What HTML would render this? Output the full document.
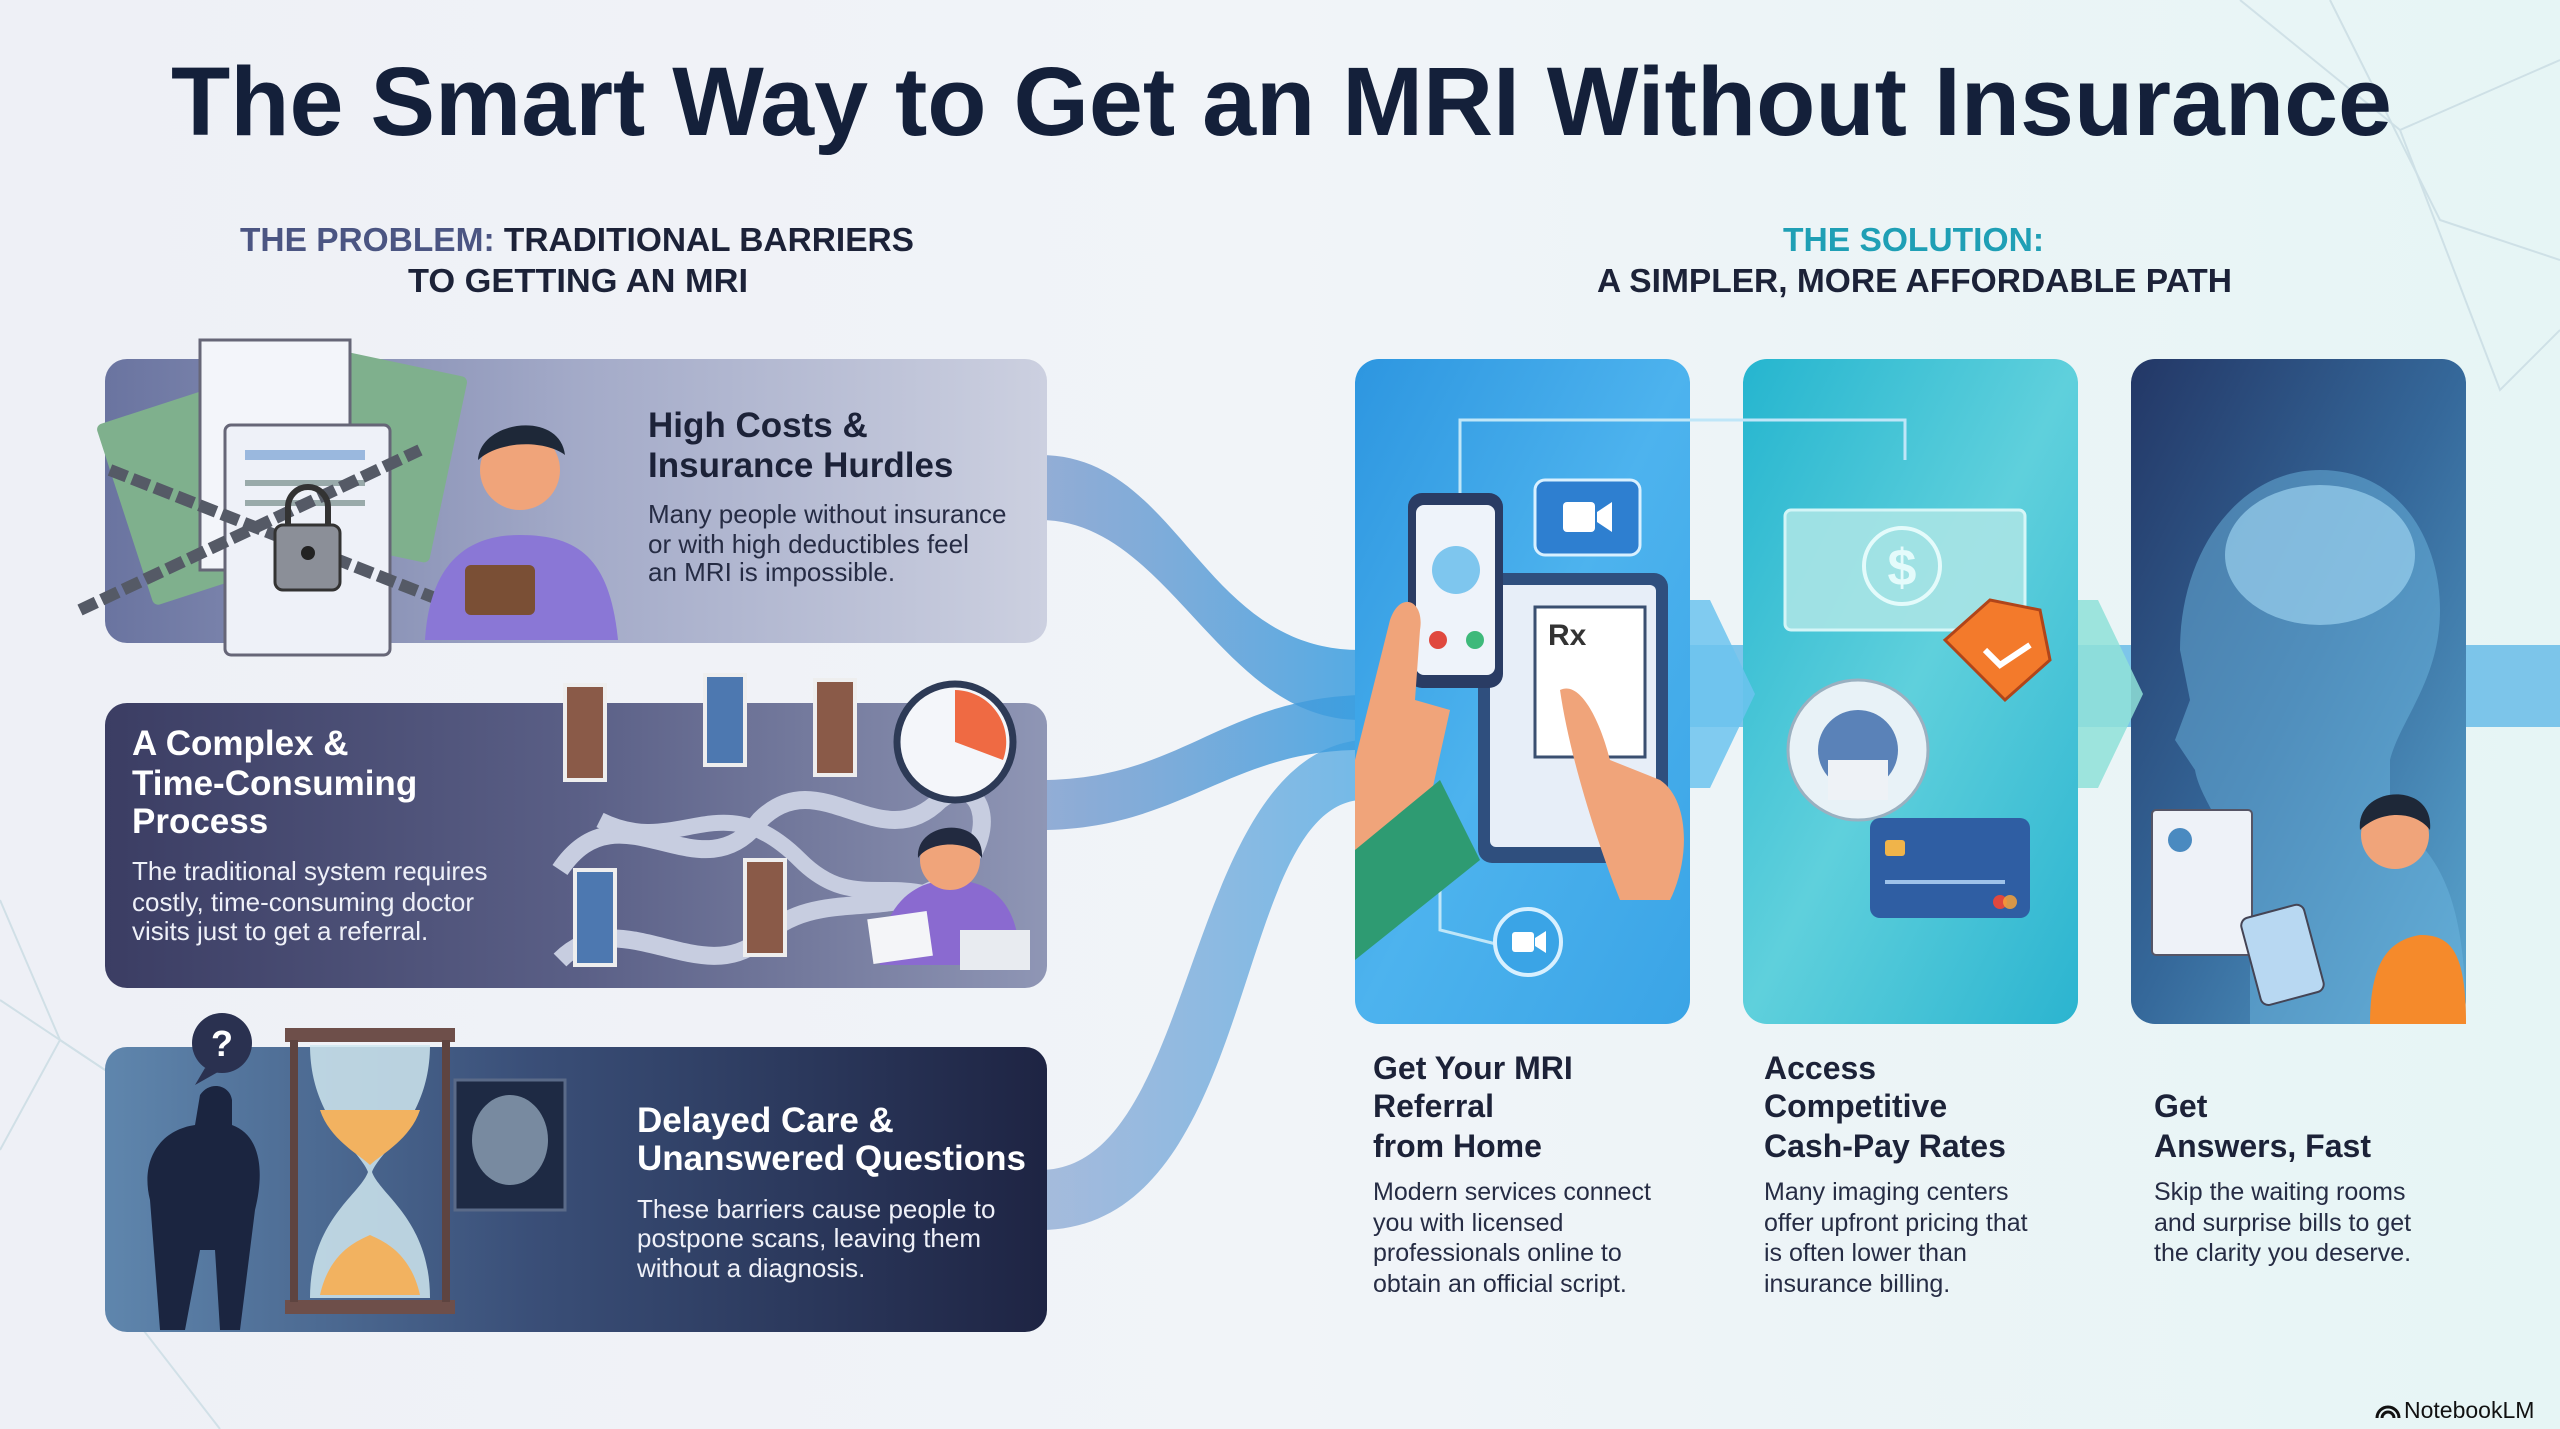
<!DOCTYPE html>
<html><head><meta charset="utf-8"><style>
html,body{margin:0;padding:0;width:2560px;height:1429px;overflow:hidden;background:#f1f4f8}
svg{display:block}
text{font-family:"Liberation Sans",sans-serif}
</style></head><body>
<svg width="2560" height="1429" viewBox="0 0 2560 1429" xmlns="http://www.w3.org/2000/svg">
<defs>
<linearGradient id="bg" x1="0" y1="0" x2="1" y2="0"><stop offset="0" stop-color="#eef0f6"/><stop offset=".5" stop-color="#f1f4f8"/><stop offset="1" stop-color="#e6f5f5"/></linearGradient>
<linearGradient id="c1" x1="0" y1="0" x2="1" y2="0"><stop offset="0" stop-color="#6a74a0"/><stop offset=".5" stop-color="#a3aac8"/><stop offset="1" stop-color="#ccd0e0"/></linearGradient>
<linearGradient id="c2" x1="0" y1="0" x2="1" y2="0"><stop offset="0" stop-color="#3b3d63"/><stop offset=".5" stop-color="#5a5f86"/><stop offset="1" stop-color="#8f96b5"/></linearGradient>
<linearGradient id="c3" x1="0" y1="0" x2="1" y2="0"><stop offset="0" stop-color="#5f86ad"/><stop offset=".45" stop-color="#3a4f78"/><stop offset="1" stop-color="#1e2443"/></linearGradient>
<linearGradient id="ca" x1="0" y1="0" x2="1" y2="1"><stop offset="0" stop-color="#2d96e0"/><stop offset=".5" stop-color="#4db3ee"/><stop offset="1" stop-color="#3aa4e6"/></linearGradient>
<linearGradient id="cb" x1="0" y1="0" x2="1" y2="1"><stop offset="0" stop-color="#25b5cf"/><stop offset=".5" stop-color="#5fd0dc"/><stop offset="1" stop-color="#2bb4d0"/></linearGradient>
<linearGradient id="cc" x1="0" y1="0" x2="1" y2="1"><stop offset="0" stop-color="#233766"/><stop offset=".5" stop-color="#35689a"/><stop offset="1" stop-color="#5aa6cf"/></linearGradient>
<linearGradient id="rib" x1="0" y1="0" x2="1" y2="0"><stop offset="0" stop-color="#6b8fc6" stop-opacity=".7"/><stop offset="1" stop-color="#3a9ee0" stop-opacity=".85"/></linearGradient>
</defs>
<rect width="2560" height="1429" fill="url(#bg)"/>
<!-- faint network lines -->
<g stroke="#c9dce3" stroke-width="2" fill="none" opacity=".8">
<path d="M2240 0 L2400 130 L2500 390 L2560 330"/><path d="M2400 130 L2560 60"/><path d="M2330 0 L2440 220 L2560 260"/>
<path d="M0 900 L60 1040 L0 1150"/><path d="M60 1040 L180 1120 L120 1300 L220 1429"/><path d="M0 1000 L180 1120"/>
</g>
<!-- title -->
<text x="171" y="135" font-size="97" font-weight="700" fill="#14203a" textLength="2221" lengthAdjust="spacingAndGlyphs">The Smart Way to Get an MRI Without Insurance</text>
<text x="240" y="251" font-size="33" font-weight="700" textLength="674" lengthAdjust="spacingAndGlyphs"><tspan fill="#4b5582">THE PROBLEM:</tspan><tspan fill="#1c2238"> TRADITIONAL BARRIERS</tspan></text>
<text x="408" y="292" font-size="33" font-weight="700" fill="#1c2238" textLength="340" lengthAdjust="spacingAndGlyphs">TO GETTING AN MRI</text>
<text x="1783" y="251" font-size="33" font-weight="700" fill="#1f9fb5" textLength="261" lengthAdjust="spacingAndGlyphs">THE SOLUTION:</text>
<text x="1597" y="292" font-size="33" font-weight="700" fill="#1c2238" textLength="635" lengthAdjust="spacingAndGlyphs">A SIMPLER, MORE AFFORDABLE PATH</text>

<!-- ribbons -->
<g fill="url(#rib)">
<path d="M1040 455 C1180 455 1200 650 1360 650 L1360 720 C1220 720 1170 520 1040 520 Z"/>
<path d="M1040 780 C1180 780 1220 700 1360 695 L1360 750 C1230 750 1180 830 1040 830 Z"/>
<path d="M1040 1170 C1200 1170 1180 760 1360 740 L1360 800 C1230 810 1260 1230 1040 1230 Z" opacity=".8"/>
<path d="M1690 645 L2560 645 L2560 727 L1690 727 Z" fill="#4fb0e6" opacity=".7"/>
</g>

<!-- left cards -->
<rect x="105" y="359" width="942" height="284" rx="22" fill="url(#c1)"/>
<rect x="105" y="703" width="942" height="285" rx="22" fill="url(#c2)"/>
<rect x="105" y="1047" width="942" height="285" rx="22" fill="url(#c3)"/>

<!-- card1 illustration -->
<g>
<rect x="120" y="390" width="200" height="190" rx="6" fill="#7fb08d" transform="rotate(-18 220 485)"/>
<rect x="300" y="360" width="150" height="190" rx="6" fill="#7fb08d" transform="rotate(12 375 455)"/>
<rect x="200" y="340" width="150" height="230" fill="#f3f5fa" stroke="#667" stroke-width="3"/>
<rect x="225" y="425" width="165" height="230" rx="6" fill="#eef1f8" stroke="#667" stroke-width="3"/>
<rect x="245" y="450" width="120" height="10" fill="#9ab8de"/><rect x="245" y="480" width="120" height="6" fill="#9aa"/><rect x="245" y="500" width="120" height="6" fill="#9aa"/>
<path d="M80 610 L420 450 M110 470 L440 600" stroke="#555a66" stroke-width="12" fill="none" stroke-dasharray="18 6"/>
<rect x="275" y="525" width="65" height="65" rx="8" fill="#8b8f98" stroke="#333" stroke-width="3"/>
<path d="M288 525 v-18 a20 20 0 0 1 40 0 v18" stroke="#333" stroke-width="6" fill="none"/>
<circle cx="308" cy="553" r="7" fill="#222"/>
<path d="M425 640 C430 560 470 535 520 535 C580 535 610 560 618 640 Z" fill="#8a77d6"/>
<circle cx="520" cy="470" r="40" fill="#f0a47a"/>
<path d="M478 460 C480 420 560 410 565 455 C545 440 500 440 478 460Z" fill="#1e2838"/>
<rect x="465" y="565" width="70" height="50" rx="6" fill="#7a4f35"/>
</g>
<text font-weight="700" fill="#1c2238" font-size="35"><tspan x="648" y="437">High Costs &amp;</tspan><tspan x="648" y="477">Insurance Hurdles</tspan></text>
<text fill="#262c44" font-size="26"><tspan x="648" y="523">Many people without insurance</tspan><tspan x="648" y="553">or with high deductibles feel</tspan><tspan x="648" y="581">an MRI is impossible.</tspan></text>

<!-- card2 illustration -->
<g>
<path d="M560 870 C620 780 700 900 760 820 C820 760 880 860 940 800 C980 770 1000 830 960 870 C900 930 820 880 760 940 C700 990 620 900 560 960" stroke="#c7cde0" stroke-width="18" fill="none"/>
<path d="M600 820 C680 860 720 780 800 860 C860 920 900 860 980 920" stroke="#c7cde0" stroke-width="16" fill="none"/>
<rect x="565" y="685" width="40" height="95" fill="#8a5a48" stroke="#eee" stroke-width="4"/>
<rect x="705" y="675" width="40" height="90" fill="#4d78b0" stroke="#eee" stroke-width="4"/>
<rect x="815" y="680" width="40" height="95" fill="#8a5a48" stroke="#eee" stroke-width="4"/>
<rect x="575" y="870" width="40" height="95" fill="#4d78b0" stroke="#eee" stroke-width="4"/>
<rect x="745" y="860" width="40" height="95" fill="#8a5a48" stroke="#eee" stroke-width="4"/>
<circle cx="955" cy="742" r="58" fill="#f4f6fa" stroke="#2d3a56" stroke-width="7"/>
<path d="M955 742 L955 690 A52 52 0 0 1 1003 760 Z" fill="#ef6a43"/>
<path d="M880 965 C880 900 920 880 950 880 C990 880 1020 900 1020 965 Z" fill="#8a6ad0"/>
<circle cx="950" cy="860" r="30" fill="#f0a47a"/>
<path d="M918 858 C915 820 985 815 982 858 C970 840 930 840 918 858Z" fill="#222a40"/>
<rect x="870" y="915" width="60" height="45" fill="#f4f5f8" transform="rotate(-8 900 937)"/>
<rect x="960" y="930" width="70" height="40" fill="#e8ebf0"/>
</g>
<text font-weight="700" fill="#ffffff" font-size="35"><tspan x="132" y="755">A Complex &amp;</tspan><tspan x="132" y="795">Time-Consuming</tspan><tspan x="132" y="833">Process</tspan></text>
<text fill="#eef0f8" font-size="26"><tspan x="132" y="880">The traditional system requires</tspan><tspan x="132" y="911">costly, time-consuming doctor</tspan><tspan x="132" y="940">visits just to get a referral.</tspan></text>

<!-- card3 illustration -->
<g>
<circle cx="222" cy="1043" r="30" fill="#2a3150"/><path d="M205 1068 L195 1085 L218 1072Z" fill="#2a3150"/>
<text x="222" y="1056" font-size="36" font-weight="700" fill="#fff" text-anchor="middle">?</text>
<path d="M160 1330 L150 1200 C140 1160 160 1130 195 1125 L200 1095 C210 1080 230 1085 232 1100 L232 1125 C260 1135 265 1170 255 1210 L240 1330 L220 1330 L215 1250 L200 1250 L185 1330 Z" fill="#1b2540"/>
<rect x="455" y="1080" width="110" height="130" fill="#1e2a44" stroke="#5a6a88" stroke-width="3"/>
<ellipse cx="510" cy="1140" rx="38" ry="45" fill="#8fa3b8" opacity=".8"/>
<rect x="285" y="1028" width="170" height="14" fill="#6e4f4a"/><rect x="285" y="1300" width="170" height="14" fill="#6e4f4a"/>
<rect x="290" y="1040" width="8" height="262" fill="#5e4440"/><rect x="442" y="1040" width="8" height="262" fill="#5e4440"/>
<path d="M310 1045 L430 1045 C430 1120 380 1150 372 1172 C380 1195 430 1220 430 1298 L310 1298 C310 1220 360 1195 368 1172 C360 1150 310 1120 310 1045 Z" fill="#cfe6ef" opacity=".85"/>
<path d="M320 1110 L420 1110 C410 1140 380 1155 370 1165 C360 1155 330 1140 320 1110Z" fill="#f2b260"/>
<path d="M320 1295 C330 1250 360 1240 370 1235 C380 1240 410 1250 420 1295Z" fill="#f2b260"/>
</g>
<text font-weight="700" fill="#ffffff" font-size="35"><tspan x="637" y="1132">Delayed Care &amp;</tspan><tspan x="637" y="1170">Unanswered Questions</tspan></text>
<text fill="#eef0f8" font-size="26"><tspan x="637" y="1218">These barriers cause people to</tspan><tspan x="637" y="1247">postpone scans, leaving them</tspan><tspan x="637" y="1277">without a diagnosis.</tspan></text>

<!-- right cards -->
<rect x="1355" y="359" width="335" height="665" rx="24" fill="url(#ca)"/>
<rect x="1743" y="359" width="335" height="665" rx="24" fill="url(#cb)"/>
<rect x="2131" y="359" width="335" height="665" rx="24" fill="url(#cc)"/>
<!-- chevrons -->
<path d="M1690 600 L1710 600 L1755 694 L1710 788 L1690 788 Z" fill="#6cc3ee" opacity=".85"/>
<path d="M2078 600 L2098 600 L2143 694 L2098 788 L2078 788 Z" fill="#8fe0d8" opacity=".85"/>

<!-- card A illustration -->
<g>
<path d="M1460 500 L1460 420 L1905 420 L1905 460" stroke="#bfe6f8" stroke-width="3" fill="none"/>
<path d="M1440 860 L1440 930 L1500 945" stroke="#bfe6f8" stroke-width="3" fill="none"/>
<rect x="1478" y="573" width="190" height="290" rx="14" fill="#2f4f7e"/>
<rect x="1490" y="585" width="166" height="262" rx="6" fill="#e7eef8"/>
<rect x="1535" y="607" width="110" height="150" fill="#fff" stroke="#3a4f70" stroke-width="3"/>
<text x="1548" y="645" font-size="30" font-weight="700" fill="#333">Rx</text>
<rect x="1408" y="493" width="95" height="195" rx="14" fill="#2a3c64"/>
<rect x="1416" y="505" width="79" height="170" rx="8" fill="#eef3fa"/>
<circle cx="1456" cy="570" r="24" fill="#7ec6ee"/><circle cx="1438" cy="640" r="9" fill="#e0483e"/><circle cx="1475" cy="640" r="9" fill="#3db97a"/>
<path d="M1355 760 L1390 620 C1400 590 1425 600 1420 630 L1415 700 L1450 710 L1430 800 L1355 870Z" fill="#f0a47a"/>
<path d="M1355 850 L1440 780 L1480 860 L1355 960Z" fill="#2e9b72"/>
<path d="M1560 690 C1580 680 1600 720 1610 760 L1660 780 C1690 800 1690 860 1670 900 L1620 900 C1600 850 1570 760 1560 690Z" fill="#f0a47a"/>
<rect x="1535" y="480" width="105" height="75" rx="10" fill="#2e7fd0" stroke="#d8f0ff" stroke-width="3"/>
<rect x="1563" y="502" width="32" height="30" rx="4" fill="#fff"/><path d="M1597 512 L1612 502 L1612 532 L1597 522Z" fill="#fff"/>
<circle cx="1528" cy="942" r="33" fill="#3aa4e6" stroke="#d8f0ff" stroke-width="4"/>
<rect x="1512" y="932" width="22" height="20" rx="3" fill="#fff"/><path d="M1535 938 L1546 931 L1546 953 L1535 946Z" fill="#fff"/>
</g>
<!-- card B illustration -->
<g>
<rect x="1785" y="510" width="240" height="120" rx="6" fill="#a9e5e6" stroke="#e4fbfb" stroke-width="3" opacity=".9"/>
<circle cx="1902" cy="566" r="38" fill="none" stroke="#e4fbfb" stroke-width="4"/>
<text x="1902" y="585" font-size="52" font-weight="700" fill="#e4fbfb" text-anchor="middle">$</text>
<path d="M1945 640 L1990 600 L2040 610 L2050 660 L2005 700 Z" fill="#f37a2b" stroke="#b0451a" stroke-width="3"/>
<path d="M1985 650 L2000 665 L2030 645" stroke="#fff" stroke-width="6" fill="none"/>
<circle cx="1858" cy="750" r="70" fill="#e8f2f7" stroke="#9ab0c0" stroke-width="3"/>
<circle cx="1858" cy="750" r="40" fill="#5a82b8"/>
<rect x="1828" y="760" width="60" height="40" fill="#eef2f6"/>
<rect x="1870" y="818" width="160" height="100" rx="10" fill="#2f5ea3"/>
<rect x="1885" y="840" width="20" height="16" rx="3" fill="#f0b44a"/>
<rect x="1885" y="880" width="120" height="4" fill="#9ec2ea"/>
<circle cx="2000" cy="902" r="7" fill="#e0483e"/><circle cx="2010" cy="902" r="7" fill="#f4a13a" opacity=".85"/>
</g>
<!-- card C illustration -->
<g>
<path d="M2250 1024 L2250 900 C2230 830 2200 800 2195 770 L2175 740 L2190 700 L2180 650 C2180 550 2240 470 2320 470 C2400 470 2440 540 2440 610 C2440 680 2400 720 2390 760 L2390 820 C2440 850 2466 900 2466 1024Z" fill="#6bb6e0" opacity=".5"/>
<ellipse cx="2320" cy="555" rx="95" ry="70" fill="#9ad0ee" opacity=".7"/>
<rect x="2152" y="810" width="100" height="145" rx="4" fill="#eef2f8" stroke="#556" stroke-width="2"/>
<circle cx="2180" cy="840" r="12" fill="#4a8ac0"/>
<path d="M2370 1024 C2370 960 2390 940 2420 935 C2450 935 2466 950 2466 1024Z" fill="#f58a2b"/>
<circle cx="2395" cy="835" r="34" fill="#f0a47a"/>
<path d="M2360 830 C2355 785 2435 780 2430 830 C2415 810 2380 810 2360 830Z" fill="#1e2838"/>
<rect x="2250" y="910" width="65" height="90" rx="8" fill="#b8d8f2" stroke="#445" stroke-width="2" transform="rotate(-15 2282 955)"/>
</g>

<!-- right texts -->
<text font-weight="700" fill="#1c2238" font-size="32"><tspan x="1373" y="1079">Get Your MRI</tspan><tspan x="1373" y="1117">Referral</tspan><tspan x="1373" y="1157">from Home</tspan></text>
<text fill="#262c44" font-size="25"><tspan x="1373" y="1200">Modern services connect</tspan><tspan x="1373" y="1231">you with licensed</tspan><tspan x="1373" y="1261">professionals online to</tspan><tspan x="1373" y="1292">obtain an official script.</tspan></text>
<text font-weight="700" fill="#1c2238" font-size="32"><tspan x="1764" y="1079">Access</tspan><tspan x="1764" y="1117">Competitive</tspan><tspan x="1764" y="1157">Cash-Pay Rates</tspan></text>
<text fill="#262c44" font-size="25"><tspan x="1764" y="1200">Many imaging centers</tspan><tspan x="1764" y="1231">offer upfront pricing that</tspan><tspan x="1764" y="1261">is often lower than</tspan><tspan x="1764" y="1292">insurance billing.</tspan></text>
<text font-weight="700" fill="#1c2238" font-size="32"><tspan x="2154" y="1117">Get</tspan><tspan x="2154" y="1157">Answers, Fast</tspan></text>
<text fill="#262c44" font-size="25"><tspan x="2154" y="1200">Skip the waiting rooms</tspan><tspan x="2154" y="1231">and surprise bills to get</tspan><tspan x="2154" y="1261">the clarity you deserve.</tspan></text>

<!-- logo -->
<path d="M2377 1418 a11 11 0 0 1 22 0 M2382 1418 a6 6 0 0 1 12 0" stroke="#111" stroke-width="3" fill="none"/>
<text x="2404" y="1418" font-size="23" fill="#111">NotebookLM</text>
</svg>
</body></html>
